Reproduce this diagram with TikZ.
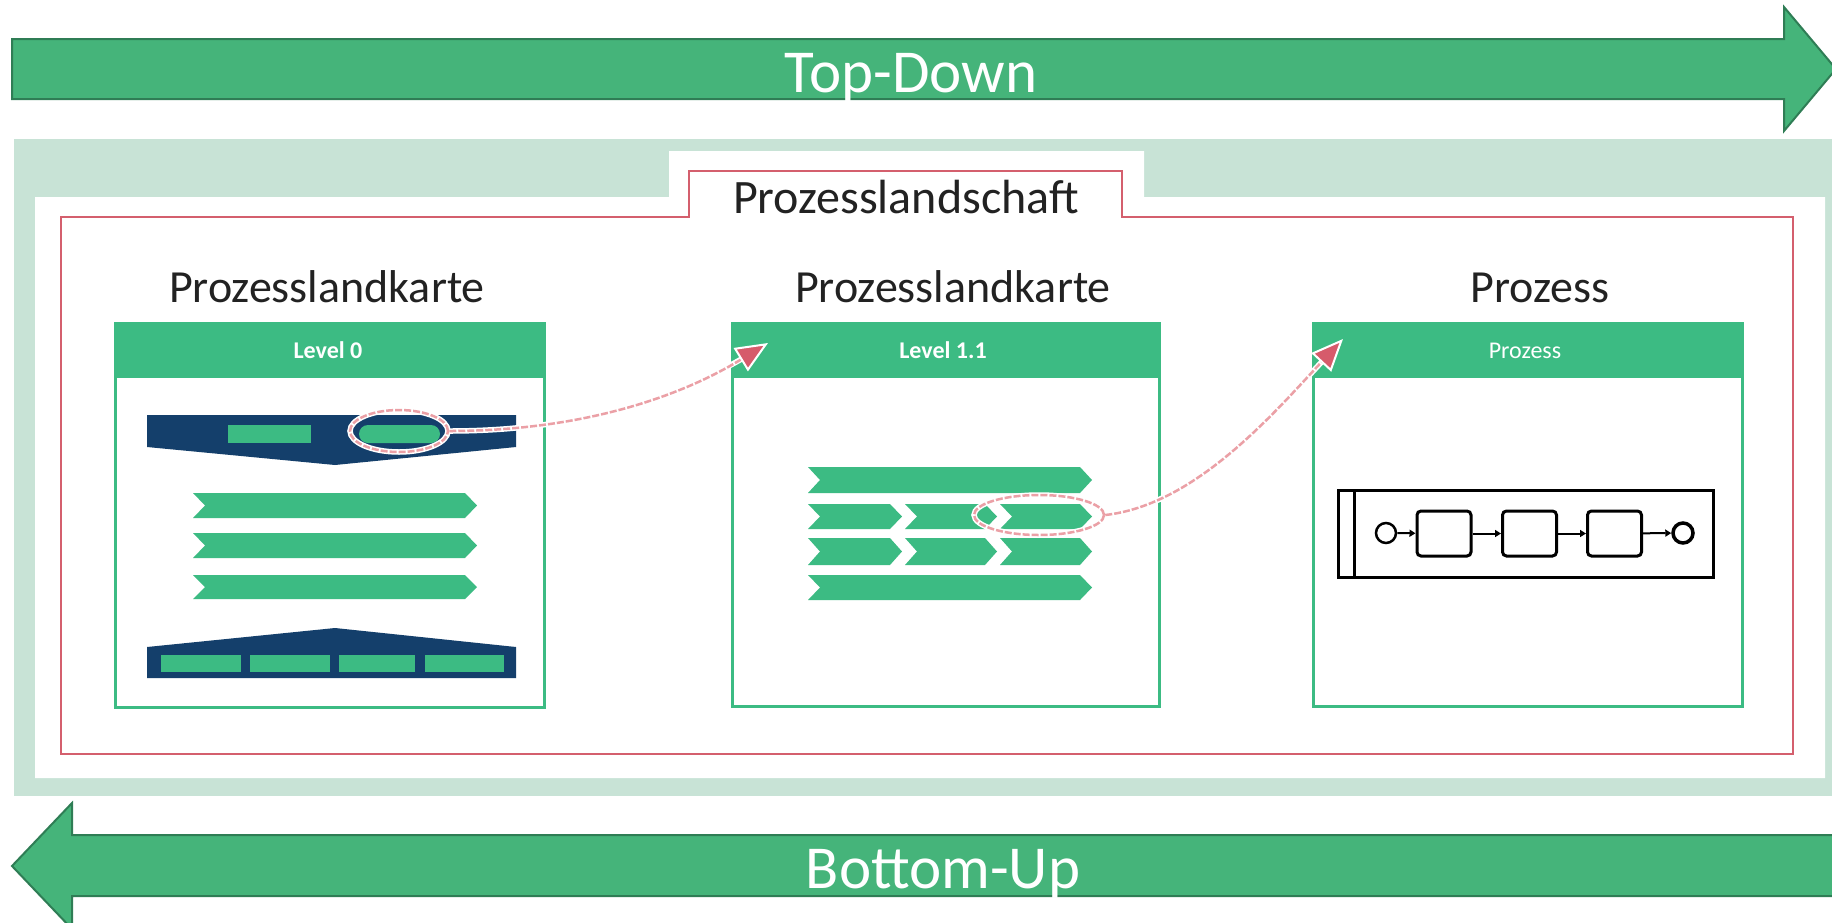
\documentclass[tikz,border=0pt]{standalone}
\usepackage{fontspec}
\setmainfont{Carlito}
\usetikzlibrary{arrows.meta,shapes.geometric}
\definecolor{bigarrow}{HTML}{45B47A}
\definecolor{bigarrowedge}{HTML}{2F7D55}
\definecolor{band}{HTML}{C8E3D6}
\definecolor{frame}{HTML}{D45F6D}
\definecolor{cardgreen}{HTML}{3CBB83}
\definecolor{navy}{HTML}{143F6B}
\definecolor{hlpink}{HTML}{EBA0A6}
\definecolor{arrowred}{HTML}{D65B6B}
\definecolor{titletext}{HTML}{222222}
\tikzset{
  bigarrowstyle/.style={fill=bigarrow,draw=bigarrowedge,line width=2pt,line join=miter},
  bigtext/.style={text=white,anchor=base,inner sep=0pt,font=\fontsize{61}{61}\selectfont},
  titlestyle/.style={text=titletext,anchor=base,inner sep=0pt,font=\fontsize{46}{46}\selectfont},
  cardframe/.style={draw=cardgreen,line width=3pt,fill=white},
  cardhead/.style={fill=cardgreen},
  headtext/.style={text=white,anchor=base,inner sep=0pt,font=\fontsize{24}{24}\selectfont},
  chevfill/.style={fill=cardgreen},
  navyfill/.style={fill=navy},
  hlellipse/.style={ellipse,draw=hlpink,line width=2.5pt,dash pattern=on 7pt off 2pt,inner sep=0pt,
    preaction={draw=white,line width=5.5pt,solid}},
  hlline/.style={draw=hlpink,line width=2.5pt,dash pattern=on 7pt off 2pt},
  hlunder/.style={draw=white,line width=5.5pt,shorten >=18pt},
  hltip/.style={-{Triangle[length=32pt,width=27pt,fill=arrowred,color=white,line width=2pt]}},
  bpmnline/.style={draw=black,line width=3pt},
  bpmntask/.style={draw=black,line width=3pt,rounded corners=4pt,minimum width=54pt,minimum height=45pt,inner sep=0pt},
  bpmnevent/.style={circle,draw=black,line width=2.5pt,minimum size=20pt,inner sep=0pt},
  seqflow/.style={draw=black,line width=2pt,-{Triangle[length=6pt,width=7pt]}}
}
\newcommand{\chevbar}[4]{% x1 x2 ytop ybot
  \fill[chevfill] (#1,#3) -- (#2-12,#3) -- (#2,{(#3+#4)/2}) -- (#2-12,#4) -- (#1,#4) -- (#1+12,{(#3+#4)/2}) -- cycle;}
\begin{document}
\begin{tikzpicture}[x=1pt,y=-1pt]
\useasboundingbox (0,0) rectangle (1832,922);
% top arrow
\draw[bigarrowstyle] (12,39) -- (1784,39) -- (1784,7) -- (1836,69) -- (1784,131) -- (1784,99) -- (12,99) -- cycle;
\node[bigtext] (td) at (911,92) {Top-Down};
% bottom arrow
\draw[bigarrowstyle] (1840,835) -- (72,835) -- (72,803) -- (12,866) -- (72,929) -- (72,896) -- (1840,896) -- cycle;
\node[bigtext] (bu) at (943,888) {Bottom-Up};
% band
\fill[band] (14,139) rectangle (1840,796);
\fill[white] (35,197) -- (669,197) -- (669,151) -- (1144,151) -- (1144,197) -- (1825,197) -- (1825,778) -- (35,778) -- cycle;
\draw[frame,line width=2.5pt] (61,217) -- (689,217) -- (689,171) -- (1122,171) -- (1122,217) -- (1793,217) -- (1793,754) -- (61,754) -- cycle;
\node[titlestyle,font=\fontsize{48}{48}\selectfont] (pls) at (906,213) {Prozesslandschaft};
% titles
\node[titlestyle] (t1) at (327,302) {Prozesslandkarte};
\node[titlestyle] (t2) at (953,302) {Prozesslandkarte};
\node[titlestyle] (t3) at (1540,302) {Prozess};
% cards
\draw[cardframe] (115,323) rectangle (544,707);
\fill[cardhead] (113.5,321.5) rectangle (545.5,378);
\node[headtext,font=\fontsize{24}{24}\selectfont\bfseries] (h1) at (328,358) {Level 0};
\draw[cardframe] (732,323) rectangle (1159,706);
\fill[cardhead] (730.5,321.5) rectangle (1160.5,378);
\node[headtext,font=\fontsize{24}{24}\selectfont\bfseries] (h2) at (943,358) {Level 1.1};
\draw[cardframe] (1313,323) rectangle (1742,706);
\fill[cardhead] (1311.5,321.5) rectangle (1743.5,378);
\node[headtext] (h3) at (1525,358) {Prozess};
% card 1 content
\fill[navyfill] (147,415) -- (516,415) -- (516,447) -- (335,465) -- (147,447) -- cycle;
\fill[chevfill] (228,425) rectangle (311,443);
\fill[chevfill,rounded corners=9pt] (359,425) rectangle (440,443);
\chevbar{193}{477}{493}{518}
\chevbar{193}{477}{533}{558}
\chevbar{193}{477}{575}{599}
\fill[navyfill] (147,678) -- (516,678) -- (516,647) -- (335,628) -- (147,647) -- cycle;
\fill[chevfill] (161,655) rectangle (241,672);
\fill[chevfill] (250,655) rectangle (330,672);
\fill[chevfill] (339,655) rectangle (415,672);
\fill[chevfill] (425,655) rectangle (504,672);
% card 2 content
\chevbar{808}{1092}{467}{493}
\chevbar{808}{902}{504}{529}
\chevbar{905}{997}{504}{529}
\chevbar{1000}{1092}{504}{529}
\chevbar{808}{902}{538}{565}
\chevbar{905}{997}{538}{565}
\chevbar{1000}{1092}{538}{565}
\chevbar{808}{1092}{575}{600}
% card 3 content (BPMN)
\draw[bpmnline] (1338,490) rectangle (1713,577);
\draw[bpmnline] (1354,490) -- (1354,577);
\node[bpmnevent] (start) at (1386,533) {};
\node[bpmntask] (task1) at (1444,533.5) {};
\node[bpmntask] (task2) at (1529.5,533.5) {};
\node[bpmntask] (task3) at (1614.5,533.5) {};
\node[bpmnevent,line width=3.5pt] (end) at (1683,533) {};
\draw[seqflow] (start) -- (task1);
\draw[seqflow] (task1) -- (task2);
\draw[seqflow] (task2) -- (task3);
\draw[seqflow] (task3) -- (end);
% highlights
\node[hlellipse,minimum width=98pt,minimum height=42pt] (e1) at (399,431) {};
\node[hlellipse,minimum width=130pt,minimum height=40pt] (e2) at (1039,515) {};
\coordinate (tip1) at (768,343);
\coordinate (tip2) at (1343,339);
\draw[hlunder] (e1.east) .. controls +(130,0) and +(-90,55) .. (tip1);
\draw[hlline,hltip] (e1.east) .. controls +(130,0) and +(-90,55) .. (tip1);
\draw[hlunder] (e2.east) .. controls +(90,-10) and +(-70,75) .. (tip2);
\draw[hlline,hltip] (e2.east) .. controls +(90,-10) and +(-70,75) .. (tip2);
\end{tikzpicture}
\end{document}
